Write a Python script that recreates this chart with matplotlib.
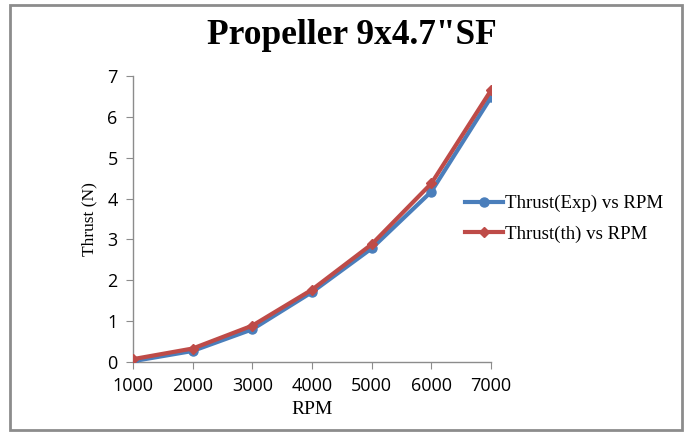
import matplotlib
matplotlib.use("Agg")
import matplotlib.pyplot as plt
from matplotlib.patches import Rectangle

rpm = [1000, 2000, 3000, 4000, 5000, 6000, 7000]
thrust_exp = [0.02, 0.27, 0.80, 1.71, 2.78, 4.17, 6.48]
thrust_th = [0.07, 0.33, 0.89, 1.77, 2.88, 4.37, 6.65]
xticks = [1000, 2000, 3000, 4000, 5000, 6000, 7000]
yticks = [0, 1, 2, 3, 4, 5, 6, 7]

W, H = 689, 432
fig = plt.figure(figsize=(W / 100, H / 100), dpi=100)
fig.patch.set_facecolor("white")

# outer frame
fig.add_artist(Rectangle((10 / W, 1 - 430 / H), (682 - 10) / W, (430 - 5) / H,
                         transform=fig.transFigure, fill=False,
                         edgecolor="#8c8c8c", linewidth=2))

ax = fig.add_axes([133 / W, 1 - 362 / H, (491 - 133) / W, (362 - 76) / H])
ax.plot(rpm, thrust_exp, color="#4a7ebb", linewidth=3, marker="o",
        markersize=6.5, label="Thrust(Exp) vs RPM", zorder=3)
ax.plot(rpm, thrust_th, color="#be4b48", linewidth=3, marker="D",
        markersize=5.5, label="Thrust(th) vs RPM", zorder=4)

ax.set_xlim(1000, 7000)
ax.set_ylim(0, 7)
ax.set_xticks(xticks)
ax.set_yticks(yticks)
for s in ["top", "right"]:
    ax.spines[s].set_visible(False)
for s in ["left", "bottom"]:
    ax.spines[s].set_color("#8c8c8c")
    ax.spines[s].set_linewidth(1)
ax.tick_params(axis="both", direction="out", length=5, color="#8c8c8c",
               labelsize=13, pad=6)
for lab in ax.get_xticklabels() + ax.get_yticklabels():
    lab.set_family("Open Sans")
    lab.set_clip_on(False)
ax.tick_params(axis="x", pad=6)

ax.set_xlabel("RPM", family="Liberation Serif", fontsize=14, labelpad=4)
ax.set_ylabel("Thrust (N)", family="Liberation Serif", fontsize=12.5, labelpad=7)

fig.text(352 / W, 1 - 36 / H, 'Propeller 9x4.7"SF', family="Liberation Serif",
         fontsize=25.5, fontweight="bold", ha="center", va="center")

leg = ax.legend(loc="center left", bbox_to_anchor=(448 / W, 1 - 219 / H),
                bbox_transform=fig.transFigure, frameon=False,
                prop={"family": "Liberation Serif", "size": 13.6},
                handlelength=2.0, handletextpad=0.1, labelspacing=0.7)

fig.savefig("out.png", dpi=100, facecolor="white")
